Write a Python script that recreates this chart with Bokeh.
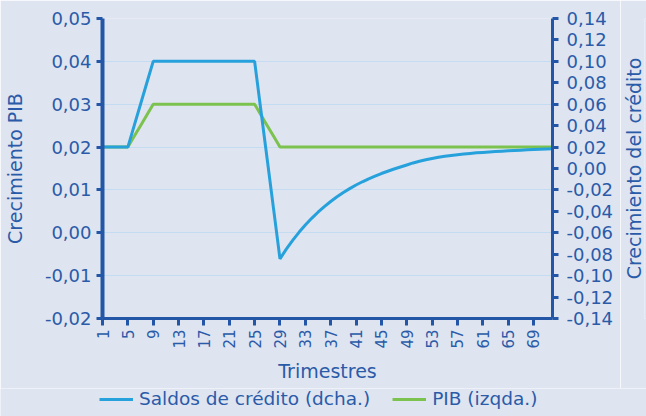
from bokeh.plotting import figure
from bokeh.models import (Range1d, LinearAxis, FixedTicker, CustomJSTickFormatter,
                          Legend, LegendItem, ColumnDataSource, Title)
from bokeh.layouts import column, row
from bokeh.embed import file_html
from bokeh.resources import INLINE
import math

# ---- data ----
quarters = list(range(1, 73))
credit = [0.02, 0.02, 0.02, 0.02, 0.02, 0.04, 0.06, 0.08,
          0.10, 0.10, 0.10, 0.10, 0.10, 0.10, 0.10, 0.10, 0.10,
          0.10, 0.10, 0.10, 0.10, 0.10, 0.10, 0.10, 0.10,
          0.0539, 0.0079, -0.0382,
          -0.0843, -0.0753, -0.0671, -0.0596, -0.0528, -0.0465, -0.0408, -0.0356,
          -0.0308, -0.0264, -0.0224, -0.0188, -0.0154, -0.0124, -0.0096, -0.0071,
          -0.0047, -0.0026, -0.0005, 0.0014, 0.0033, 0.0052, 0.0068, 0.0082,
          0.0094, 0.0105, 0.0114, 0.0122, 0.0129, 0.0135, 0.0141, 0.0146,
          0.0150, 0.0154, 0.0158, 0.0162, 0.0165, 0.0168, 0.0171, 0.0174,
          0.0177, 0.0180, 0.0182, 0.0184]
gdp = [0.02, 0.02, 0.02, 0.02, 0.02, 0.0225, 0.025, 0.0275,
       0.03, 0.03, 0.03, 0.03, 0.03, 0.03, 0.03, 0.03, 0.03,
       0.03, 0.03, 0.03, 0.03, 0.03, 0.03, 0.03, 0.03,
       0.0275, 0.025, 0.0225,
       0.02, 0.02, 0.02, 0.02, 0.02, 0.02, 0.02, 0.02,
       0.02, 0.02, 0.02, 0.02, 0.02, 0.02, 0.02, 0.02,
       0.02, 0.02, 0.02, 0.02, 0.02, 0.02, 0.02, 0.02,
       0.02, 0.02, 0.02, 0.02, 0.02, 0.02, 0.02, 0.02,
       0.02, 0.02, 0.02, 0.02, 0.02, 0.02, 0.02, 0.02,
       0.02, 0.02, 0.02, 0.02]
x_ticks = [1, 5, 9, 13, 17, 21, 25, 29, 33, 37, 41, 45, 49, 53, 57, 61, 65, 69]
left_ticks = [-0.02, -0.01, 0.0, 0.01, 0.02, 0.03, 0.04, 0.05]
right_ticks = [-0.14, -0.12, -0.10, -0.08, -0.06, -0.04, -0.02, 0.0,
               0.02, 0.04, 0.06, 0.08, 0.10, 0.12, 0.14]
series_labels = ["Saldos de crédito (dcha.)", "PIB (izqda.)"]
x_title = "Trimestres"
left_title = "Crecimiento PIB"
right_title = "Crecimiento del crédito"

# ---- style ----
BG = "#dfe4f1"
AXC = "#2356a6"
TXT = "#2a5ba8"
BLUE = "#27a1db"
GREEN = "#7cc24f"
GRID = "#c4dcf1"
FONT = "DejaVu Sans"

src = ColumnDataSource(dict(q=quarters, credit=credit, gdp=gdp))

p = figure(width=620, height=388, output_backend="svg", toolbar_location=None,
           x_range=Range1d(1, 72), y_range=Range1d(-0.02, 0.05),
           min_border_left=101, min_border_right=68, min_border_top=18,
           min_border_bottom=70)
p.extra_y_ranges = {"credit": Range1d(-0.14, 0.14)}
p.background_fill_color = BG
p.border_fill_color = BG
p.outline_line_color = None

fmt = CustomJSTickFormatter(code="return tick.toFixed(2).replace('.', ',');")

r_gdp = p.line("q", "gdp", source=src, line_color=GREEN, line_width=3)
r_cr = p.line("q", "credit", source=src, line_color=BLUE, line_width=3,
              y_range_name="credit")

# left axis
ly = p.yaxis[0]
ly.ticker = FixedTicker(ticks=left_ticks)
ly.formatter = fmt
ly.axis_label = left_title
ly.axis_label_standoff = 16

# right axis (its title is drawn in the narrow strip to the right)
ry = LinearAxis(y_range_name="credit", ticker=FixedTicker(ticks=right_ticks),
                formatter=fmt)
p.add_layout(ry, "right")

# x axis
xa = p.xaxis[0]
xa.ticker = FixedTicker(ticks=x_ticks)
xa.major_label_orientation = math.pi / 2
xa.axis_label = x_title

for ax in (ly, ry, xa):
    ax.axis_line_color = AXC
    ax.axis_line_width = 3
    ax.major_tick_line_color = AXC
    ax.major_tick_line_width = 3
    ax.major_tick_out = 6
    ax.major_tick_in = 0
    ax.minor_tick_line_color = None
    ax.major_label_text_color = TXT
    ax.major_label_text_font = FONT
    ax.major_label_text_font_size = "18px"
    ax.axis_label_text_color = TXT
    ax.axis_label_text_font = FONT
    ax.axis_label_text_font_size = "19px"
    ax.axis_label_text_font_style = "normal"
ly.axis_line_width = 4
ly.major_label_standoff = 5
ry.major_label_standoff = 8
xa.major_tick_out = 7
xa.major_label_standoff = 4
xa.axis_label_standoff = 8
xa.major_label_text_font_size = "15px"

p.ygrid.ticker = FixedTicker(ticks=left_ticks)
p.ygrid.grid_line_color = GRID
p.ygrid.grid_line_width = 1
p.xgrid.grid_line_color = None

# narrow strip on the right carrying the right-axis title (reads bottom to top)
tf = figure(width=26, height=388, output_backend="svg", toolbar_location=None,
            x_axis_type=None, y_axis_type=None,
            min_border_left=0, min_border_right=0, min_border_top=18,
            min_border_bottom=70)
tf.background_fill_color = BG
tf.border_fill_color = BG
tf.outline_line_color = None
tf.add_layout(Title(text=right_title, align="center", text_color=TXT,
                    text_font=FONT, text_font_size="19px",
                    text_font_style="normal", standoff=0, offset=0), "left")

# legend strip below the chart
lg = figure(width=646, height=28, output_backend="svg", toolbar_location=None,
            x_range=Range1d(1, 72), y_range=Range1d(1, 2),
            x_axis_type=None, y_axis_type=None,
            min_border_left=0, min_border_right=0, min_border_top=0,
            min_border_bottom=0)
lg.background_fill_color = BG
lg.border_fill_color = BG
lg.outline_line_color = None
k_cr = lg.line("q", "credit", source=src, line_color=BLUE, line_width=3)
k_gdp = lg.line("q", "gdp", source=src, line_color=GREEN, line_width=3)
legend = Legend(items=[LegendItem(label=series_labels[0], renderers=[k_cr]),
                       LegendItem(label=series_labels[1], renderers=[k_gdp])],
                orientation="horizontal", location=(99, 7),
                background_fill_alpha=0, border_line_color=None,
                label_text_font=FONT, label_text_font_size="18.5px",
                label_text_color=TXT, glyph_width=34, glyph_height=20,
                spacing=22, padding=0, margin=0, label_standoff=6)
lg.add_layout(legend, "center")

layout = column(row(p, tf, spacing=0), lg, spacing=0)
open("out.html", "w").write(file_html(layout, INLINE))
